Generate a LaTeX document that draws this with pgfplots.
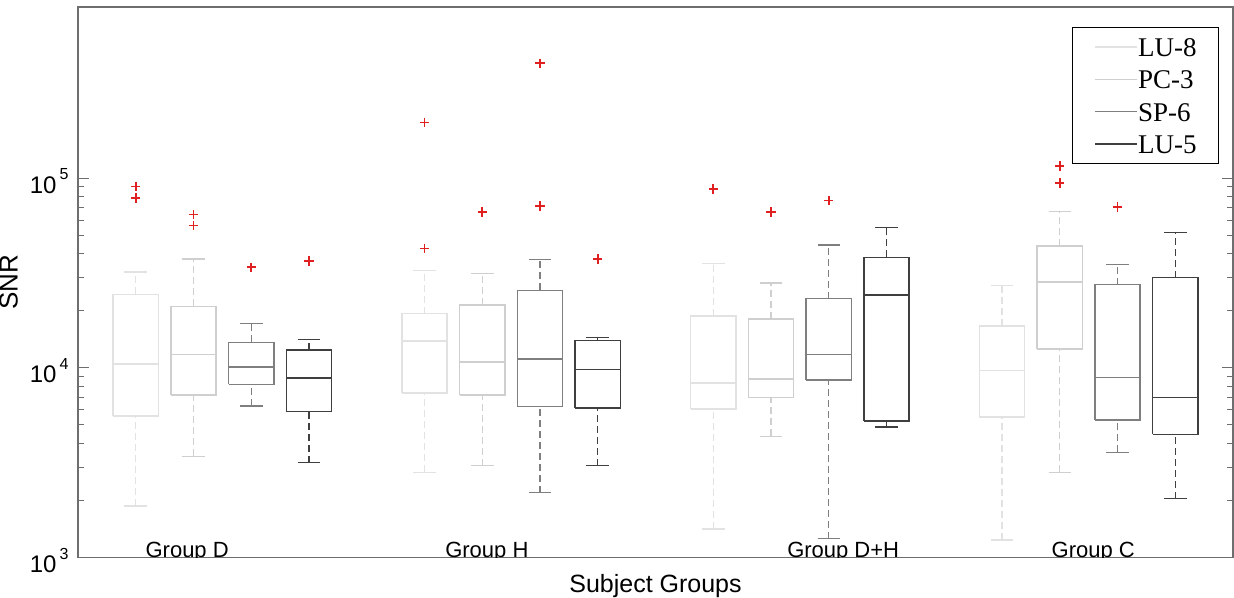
\documentclass[border=0pt]{standalone}
\usepackage{fontspec}
\setmainfont{Liberation Sans}
\newfontfamily\timesfont{Liberation Serif}
\usepackage{pgfplots}
\pgfplotsset{compat=1.18}
\definecolor{c1}{HTML}{E2E2E2}
\definecolor{c2}{HTML}{CFCFCF}
\definecolor{c3}{HTML}{7F7F7F}
\definecolor{c4}{HTML}{3F3F3F}
\definecolor{outred}{HTML}{E02020}
\definecolor{axgray}{HTML}{6E6E6E}
\newcommand{\tl}[1]{10\hspace{1.6pt}\raisebox{6.7pt}{\fontsize{8}{9}\selectfont #1}}
\begin{document}
\begin{tikzpicture}
\begin{axis}[name=ax, scale only axis, width=577.5pt, height=275.25pt,
  xmin=0, xmax=20, ymode=log, ymin=1000, ymax=8e5,
  unbounded coords=jump,
  xtick=\empty,
  ytick={1000,10000,100000},
  yticklabels={\tl{3},\tl{4},\tl{5}},
  yticklabel style={anchor=base east, inner xsep=4.5pt, inner ysep=0pt, yshift=-7.5pt, font=\fontsize{12}{14}\selectfont},
  tick align=inside, major tick length=5.5pt, minor tick length=3pt,
  tick style={color=axgray, line width=0.5pt},
  axis line style={draw=axgray, line width=0.6pt},
  ylabel={SNR}, xlabel={Subject Groups},
  ylabel style={at={(axis description cs:-0.0516,0.5)}, anchor=south, inner sep=0pt, font=\fontsize{13}{15}\selectfont},
  xlabel style={at={(axis description cs:0.5,0)}, anchor=base, yshift=-17.6pt, inner sep=0pt, font=\fontsize{12.5}{14}\selectfont},
  legend style={at={(1,1)}, anchor=north east, xshift=-7pt, yshift=-10pt,
    draw=black, line width=0.5pt, inner xsep=11pt, inner ysep=5pt,
    font=\timesfont\fontsize{13.5}{15}\selectfont, row sep=6.7pt,
    nodes={inner sep=0pt, text height=9.5pt, text depth=0pt}},
  legend cell align=left,
  legend image code/.code={\draw[#1] (0pt,0pt) -- (21pt,0pt);},
  /tikz/every even column/.append style={column sep=1pt},
  sol/.style={solid, line width=0.7pt, no marks, line join=miter},
  dsh/.style={dash pattern=on 3.5pt off 2pt, line width=0.7pt, no marks},
]
\addlegendimage{draw=c1, line width=0.7pt}\addlegendentry{LU-8}
\addlegendimage{draw=c2, line width=0.7pt}\addlegendentry{PC-3}
\addlegendimage{draw=c3, line width=0.7pt}\addlegendentry{SP-6}
\addlegendimage{draw=c4, line width=0.7pt}\addlegendentry{LU-5}

% ---------- Group D ----------
% LU-8: lw 1867, q1 5567, med 10457, q3 24450, uw 32060
\addplot[sol, c1] coordinates {(0.6075,5567) (1.3925,5567) (1.3925,24450) (0.6075,24450) (0.6075,5567) (0.6075,nan) (0.6075,10457) (1.3925,10457) (0.6075,nan) (0.805,1867) (1.195,1867) (0.805,nan) (0.805,32060) (1.195,32060)};
\addplot[dsh, c1] coordinates {(1,1867) (1,5567) (1,nan) (1,24450) (1,32060)};
% PC-3: 3414, 7205, 11770, 21140, 37520
\addplot[sol, c2] coordinates {(1.6075,7205) (2.3925,7205) (2.3925,21140) (1.6075,21140) (1.6075,7205) (1.6075,nan) (1.6075,11770) (2.3925,11770) (1.6075,nan) (1.805,3414) (2.195,3414) (1.805,nan) (1.805,37520) (2.195,37520)};
\addplot[dsh, c2] coordinates {(2,3414) (2,7205) (2,nan) (2,21140) (2,37520)};
% SP-6: 6285, 8175, 10085, 13610, 17200
\addplot[sol, c3] coordinates {(2.6075,8175) (3.3925,8175) (3.3925,13610) (2.6075,13610) (2.6075,8175) (2.6075,nan) (2.6075,10085) (3.3925,10085) (2.6075,nan) (2.805,6285) (3.195,6285) (2.805,nan) (2.805,17200) (3.195,17200)};
\addplot[dsh, c3] coordinates {(3,6285) (3,8175) (3,nan) (3,13610) (3,17200)};
% LU-5: 3158, 5891, 8826, 12400, 14160
\addplot[sol, c4] coordinates {(3.6075,5891) (4.3925,5891) (4.3925,12400) (3.6075,12400) (3.6075,5891) (3.6075,nan) (3.6075,8826) (4.3925,8826) (3.6075,nan) (3.805,3158) (4.195,3158) (3.805,nan) (3.805,14160) (4.195,14160)};
\addplot[dsh, c4] coordinates {(4,3158) (4,5891) (4,nan) (4,12400) (4,14160)};

% ---------- Group H ----------
% LU-8: 2811, 7385, 13880, 19350, 32720
\addplot[sol, c1] coordinates {(5.6075,7385) (6.3925,7385) (6.3925,19350) (5.6075,19350) (5.6075,7385) (5.6075,nan) (5.6075,13880) (6.3925,13880) (5.6075,nan) (5.805,2811) (6.195,2811) (5.805,nan) (5.805,32720) (6.195,32720)};
\addplot[dsh, c1] coordinates {(6,2811) (6,7385) (6,nan) (6,19350) (6,32720)};
% PC-3: 3046, 7180, 10760, 21480, 31440
\addplot[sol, c2] coordinates {(6.6075,7180) (7.3925,7180) (7.3925,21480) (6.6075,21480) (6.6075,7180) (6.6075,nan) (6.6075,10760) (7.3925,10760) (6.6075,nan) (6.805,3046) (7.195,3046) (6.805,nan) (6.805,31440) (7.195,31440)};
\addplot[dsh, c2] coordinates {(7,3046) (7,7180) (7,nan) (7,21480) (7,31440)};
% SP-6: 2194, 6233, 11110, 25670, 37390
\addplot[sol, c3] coordinates {(7.6075,6233) (8.3925,6233) (8.3925,25670) (7.6075,25670) (7.6075,6233) (7.6075,nan) (7.6075,11110) (8.3925,11110) (7.6075,nan) (7.805,2194) (8.195,2194) (7.805,nan) (7.805,37390) (8.195,37390)};
\addplot[dsh, c3] coordinates {(8,2194) (8,6233) (8,nan) (8,25670) (8,37390)};
% LU-5: 3046, 6156, 9808, 13990, 14460
\addplot[sol, c4] coordinates {(8.6075,6156) (9.3925,6156) (9.3925,13990) (8.6075,13990) (8.6075,6156) (8.6075,nan) (8.6075,9808) (9.3925,9808) (8.6075,nan) (8.805,3046) (9.195,3046) (8.805,nan) (8.805,14460) (9.195,14460)};
\addplot[dsh, c4] coordinates {(9,3046) (9,6156) (9,nan) (9,13990) (9,14460)};

% ---------- Group D+H ----------
% LU-8: 1413, 6081, 8305, 18790, 35480
\addplot[sol, c1] coordinates {(10.6075,6081) (11.3925,6081) (11.3925,18790) (10.6075,18790) (10.6075,6081) (10.6075,nan) (10.6075,8305) (11.3925,8305) (10.6075,nan) (10.805,1413) (11.195,1413) (10.805,nan) (10.805,35480) (11.195,35480)};
\addplot[dsh, c1] coordinates {(11,1413) (11,6081) (11,nan) (11,18790) (11,35480)};
% PC-3: 4351, 6982, 8720, 18120, 28050
\addplot[sol, c2] coordinates {(11.6075,6982) (12.3925,6982) (12.3925,18120) (11.6075,18120) (11.6075,6982) (11.6075,nan) (11.6075,8720) (12.3925,8720) (11.6075,nan) (11.805,4351) (12.195,4351) (11.805,nan) (11.805,28050) (12.195,28050)};
\addplot[dsh, c2] coordinates {(12,4351) (12,6982) (12,nan) (12,18120) (12,28050)};
% SP-6: 1256, 8613, 11770, 23210, 44460
\addplot[sol, c3] coordinates {(12.6075,8613) (13.3925,8613) (13.3925,23210) (12.6075,23210) (12.6075,8613) (12.6075,nan) (12.6075,11770) (13.3925,11770) (12.6075,nan) (12.805,1256) (13.195,1256) (12.805,nan) (12.805,44460) (13.195,44460)};
\addplot[dsh, c3] coordinates {(13,1256) (13,8613) (13,nan) (13,23210) (13,44460)};
% LU-5: 4870, 5258, 24250, 38300, 54930
\addplot[sol, c4] coordinates {(13.6075,5258) (14.3925,5258) (14.3925,38300) (13.6075,38300) (13.6075,5258) (13.6075,nan) (13.6075,24250) (14.3925,24250) (13.6075,nan) (13.805,4870) (14.195,4870) (13.805,nan) (13.805,54930) (14.195,54930)};
\addplot[dsh, c4] coordinates {(14,4870) (14,5258) (14,nan) (14,38300) (14,54930)};

% ---------- Group C ----------
% LU-8: 1236, 5519, 9690, 16590, 27170
\addplot[sol, c1] coordinates {(15.6075,5519) (16.3925,5519) (16.3925,16590) (15.6075,16590) (15.6075,5519) (15.6075,nan) (15.6075,9690) (16.3925,9690) (15.6075,nan) (15.805,1236) (16.195,1236) (15.805,nan) (15.805,27170) (16.195,27170)};
\addplot[dsh, c1] coordinates {(16,1236) (16,5519) (16,nan) (16,16590) (16,27170)};
% PC-3: 2811, 12550, 28390, 43940, 66930
\addplot[sol, c2] coordinates {(16.6075,12550) (17.3925,12550) (17.3925,43940) (16.6075,43940) (16.6075,12550) (16.6075,nan) (16.6075,28390) (17.3925,28390) (16.6075,nan) (16.805,2811) (17.195,2811) (16.805,nan) (16.805,66930) (17.195,66930)};
\addplot[dsh, c2] coordinates {(17,2811) (17,12550) (17,nan) (17,43940) (17,66930)};
% SP-6: 3584, 5321, 8901, 27510, 35180
\addplot[sol, c3] coordinates {(17.6075,5321) (18.3925,5321) (18.3925,27510) (17.6075,27510) (17.6075,5321) (17.6075,nan) (17.6075,8901) (18.3925,8901) (17.6075,nan) (17.805,3584) (18.195,3584) (17.805,nan) (17.805,35180) (18.195,35180)};
\addplot[dsh, c3] coordinates {(18,3584) (18,5321) (18,nan) (18,27510) (18,35180)};
% LU-5: 2040, 4457, 6982, 29950, 51880
\addplot[sol, c4] coordinates {(18.6075,4457) (19.3925,4457) (19.3925,29950) (18.6075,29950) (18.6075,4457) (18.6075,nan) (18.6075,6982) (19.3925,6982) (18.6075,nan) (18.805,2040) (19.195,2040) (18.805,nan) (18.805,51880) (19.195,51880)};
\addplot[dsh, c4] coordinates {(19,2040) (19,4457) (19,nan) (19,29950) (19,51880)};

% ---------- outliers ----------
\addplot[only marks, color=outred, mark=+, mark size=2.3pt, mark options={draw=outred, fill=outred, solid, line width=0.8pt}] coordinates {
 (1,90660) (1,78640) (2,64290) (2,56240) (3,33930) (4,36630)
 (6,197000) (6,42580) (7,66370) (8,404600) (8,71390) (9,37520)
 (11,87700) (12,66370) (13,76210)
 (17,115950) (17,94340) (18,70490)};

\node[anchor=base, inner sep=0pt, font=\fontsize{11}{13}\selectfont] at (axis cs:1.89,1000) {Group D};
\node[anchor=base, inner sep=0pt, font=\fontsize{11}{13}\selectfont] at (axis cs:7.08,1000) {Group H};
\node[anchor=base, inner sep=0pt, font=\fontsize{11}{13}\selectfont] at (axis cs:13.25,1000) {Group D+H};
\node[anchor=base, inner sep=0pt, font=\fontsize{11}{13}\selectfont] at (axis cs:17.58,1000) {Group C};
\end{axis}
\pgfresetboundingbox
\path[use as bounding box] ([xshift=-39pt,yshift=-20.25pt]ax.south west) rectangle ([xshift=0.5pt,yshift=3.5pt]ax.north east);
\end{tikzpicture}
\end{document}
